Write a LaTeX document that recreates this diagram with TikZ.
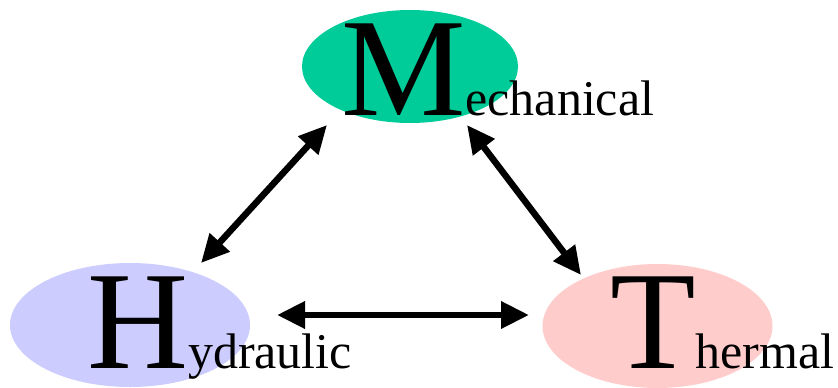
\documentclass[tikz,border=0pt]{standalone}
\usepackage{fontspec}
\setmainfont{Liberation Serif}
\usetikzlibrary{arrows.meta,shapes.geometric}
\definecolor{mgreen}{RGB}{0,204,153}
\definecolor{hblue}{RGB}{204,204,255}
\definecolor{tpink}{RGB}{255,204,204}
\def\BigL#1{{\fontsize{140}{140}\selectfont #1}}
\def\SmallL#1{{\fontsize{50}{50}\selectfont #1}}
\begin{document}
\begin{tikzpicture}[x=1pt,y=-1pt,
  blob/.style={ellipse,draw=none,inner sep=0pt,outer sep=0pt},
  lbl/.style={anchor=base west,inner sep=0pt,outer sep=0pt},
  conn/.style={line width=6.5pt,{Triangle[length=28pt,width=26pt]}-{Triangle[length=28pt,width=26pt]}}]
\useasboundingbox (0,0) rectangle (838,388);
\node[blob,fill=mgreen,minimum width=216pt,minimum height=113pt] (Mell) at (410,66.5) {};
\node[blob,fill=hblue,minimum width=240pt,minimum height=124pt] (Hell) at (130,325) {};
\node[blob,fill=tpink,minimum width=230pt,minimum height=124pt] (Tell) at (657.5,326) {};
\node[lbl] (M) at (341,115) {\BigL{M}\SmallL{echanical}};
\node[lbl] (H) at (87,368) {\BigL{H}\SmallL{ydraulic}};
\node[lbl] (T) at (610,368) {\BigL{T}\SmallL{hermal}};
\coordinate (mh1) at (327,125);
\coordinate (mh2) at (201,263);
\coordinate (mt1) at (467,125);
\coordinate (mt2) at (581,275);
\coordinate (ht1) at (277,315);
\coordinate (ht2) at (529,315);
\draw[conn] (mh1) -- (mh2);
\draw[conn] (mt1) -- (mt2);
\draw[conn] (ht1) -- (ht2);
\end{tikzpicture}
\end{document}
